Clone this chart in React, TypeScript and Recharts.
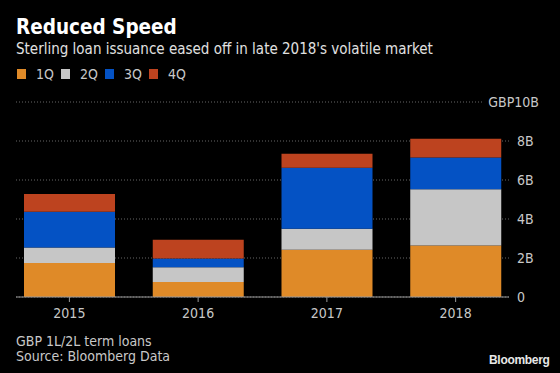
import { BarChart, Bar, XAxis, YAxis, CartesianGrid, Legend } from "recharts";

const years = ["2015", "2016", "2017", "2018"];
const q1 = [1.75, 0.77, 2.42, 2.64];
const q2 = [0.79, 0.76, 1.08, 2.88];
const q3 = [1.83, 0.44, 3.13, 1.63];
const q4 = [0.91, 0.96, 0.71, 0.97];
const yTicks = [0, 2, 4, 6, 8, 10];

const seriesNames = ["1Q", "2Q", "3Q", "4Q"];
const seriesColors = ["#df8a28", "#c6c6c6", "#0452c4", "#bd431f"];

const FONT = "'DejaVu Sans Condensed', 'Liberation Sans Narrow', 'Open Sans', sans-serif";

const data = years.map((year, i) => ({
  year,
  q1: q1[i],
  q2: q2[i],
  q3: q3[i],
  q4: q4[i],
}));

const YTick = (props: any) => {
  const { x, y, payload } = props;
  const v = payload.value;
  if (v === 10) {
    return (
      <g>
        <rect x={x - 34} y={y - 3} width={28} height={6} fill="#000" />
        <text x={x + 22} y={y} dy="0.35em" textAnchor="end" fill="#c8c8c8" fontSize={14} fontFamily={FONT}>
          GBP10B
        </text>
      </g>
    );
  }
  return (
    <text x={x} y={y} dy="0.35em" textAnchor="start" fill="#c8c8c8" fontSize={14} fontFamily={FONT}>
      {v === 0 ? "0" : `${v}B`}
    </text>
  );
};

const LegendContent = (props: any) => {
  const { payload } = props;
  return (
    <div style={{ display: "flex", fontFamily: FONT, fontSize: 14, color: "#c8c8c8" }}>
      {(payload || []).map((p: any) => (
        <div key={p.value} style={{ display: "flex", alignItems: "center", width: 44 }}>
          <span style={{ display: "inline-block", width: 9, height: 10, background: p.color, marginRight: 10 }} />
          <span>{p.value}</span>
        </div>
      ))}
    </div>
  );
};

export default function App() {
  return (
    <div style={{ position: "absolute", left: 0, top: 0, width: 560, height: 373, background: "#000", fontFamily: FONT }}>
      <div style={{ position: "absolute", left: 16, top: 17, fontSize: 20.5, fontWeight: 700, color: "#fff", lineHeight: "21px" }}>
        Reduced Speed
      </div>
      <div style={{ position: "absolute", left: 16, top: 40, fontSize: 15, color: "#e0e0e0", lineHeight: "18px" }}>
        Sterling loan issuance eased off in late 2018's volatile market
      </div>
      <BarChart
        width={560}
        height={373}
        data={data}
        margin={{ top: 102, right: 0, bottom: 46, left: 16 }}
      >
        <CartesianGrid vertical={false} stroke="#666" strokeDasharray="1 2" />
        <XAxis
          dataKey="year"
          height={30}
          padding={{ left: -11, right: -11 }}
          axisLine={{ stroke: "#999" }}
          tickLine={{ stroke: "#999" }}
          tickSize={5}
          tickMargin={6}
          tick={{ fill: "#c8c8c8", fontSize: 14, fontFamily: FONT }}
        />
        <YAxis
          orientation="right"
          width={51}
          domain={[0, 10]}
          ticks={yTicks}
          axisLine={false}
          tickLine={false}
          tickSize={0}
          tickMargin={8}
          tick={<YTick />}
        />
        <Legend
          layout="horizontal"
          align="center"
          verticalAlign="middle"
          wrapperStyle={{ top: 66, left: 17, width: "auto" }}
          content={<LegendContent />}
        />
        <Bar dataKey="q1" name={seriesNames[0]} stackId="a" fill={seriesColors[0]} barSize={91} isAnimationActive={false} />
        <Bar dataKey="q2" name={seriesNames[1]} stackId="a" fill={seriesColors[1]} barSize={91} isAnimationActive={false} />
        <Bar dataKey="q3" name={seriesNames[2]} stackId="a" fill={seriesColors[2]} barSize={91} isAnimationActive={false} />
        <Bar dataKey="q4" name={seriesNames[3]} stackId="a" fill={seriesColors[3]} barSize={91} isAnimationActive={false} />
      </BarChart>
      <div style={{ position: "absolute", left: 16, top: 334, fontSize: 14, color: "#c8c8c8", lineHeight: "15px" }}>
        GBP 1L/2L term loans
        <br />
        Source: Bloomberg Data
      </div>
      <div style={{ position: "absolute", left: 489, top: 353, fontSize: 12, fontWeight: 700, color: "#e8e8e8", fontFamily: "'Liberation Sans', Arial, sans-serif", letterSpacing: -0.3 }}>
        Bloomberg
      </div>
    </div>
  );
}
